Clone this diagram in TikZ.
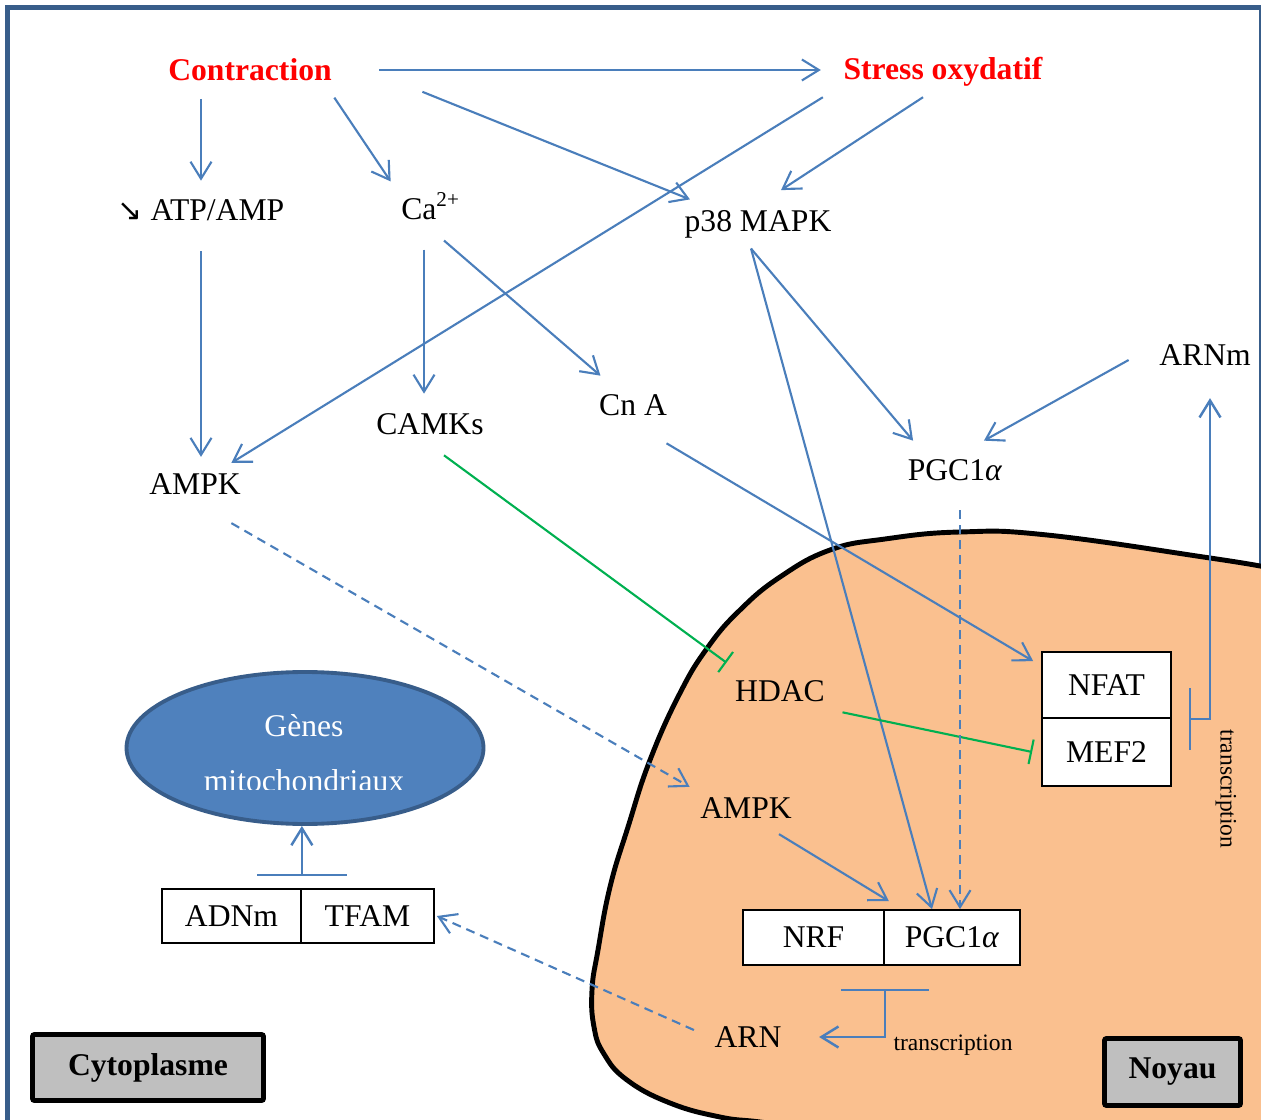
\documentclass[tikz,border=0pt]{standalone}
\usepackage{fontspec}
\setmainfont{Liberation Serif}
\newfontfamily\arrowfont{DejaVu Sans}
\usetikzlibrary{arrows.meta,shapes.geometric}
\definecolor{linkblue}{RGB}{74,126,187}
\definecolor{inhgreen}{RGB}{0,176,80}
\definecolor{framedark}{RGB}{56,93,138}
\definecolor{genesblue}{RGB}{79,129,189}
\definecolor{noyaufill}{RGB}{250,192,143}
\definecolor{zonegray}{RGB}{191,191,191}
\tikzset{
    % text labels
    lbl/.style={font=\fontsize{9}{11}\selectfont, inner sep=1mm},
    cue/.style={lbl, font=\fontsize{9}{11}\selectfont\bfseries, text=red},
    txnote/.style={font=\fontsize{6.7}{8}\selectfont, inner sep=0pt},
    % boxed factors
    cell/.style={lbl, draw=black, line width=0.5pt, fill=white},
    zonetag/.style={draw=black, line width=1.4pt, fill=zonegray, rounded corners=0.6pt,
        font=\fontsize{9}{11}\selectfont\bfseries},
}
\tikzset{
    arr/.style={-{Straight Barb[length=1.7mm,width=2.1mm]}, line width=0.6pt, linkblue},
    darr/.style={arr, dash pattern=on 0.9mm off 0.6mm},
    inh/.style={-{Bar[width=2.5mm]}, line width=0.6pt, inhgreen},
    txarr/.style={{Bar[width=#1]}-{Straight Barb[length=1.7mm,width=2.1mm]}, line width=0.7pt, linkblue},
}

\begin{document}
\begin{tikzpicture}[x=0.1mm, y=-0.1mm,
   genestext/.style={font=\fontsize{9}{15.6}\selectfont, text=white, align=center, inner sep=0pt}]
  \useasboundingbox (0,0) rectangle (1261,1120);
  \clip (0,0) rectangle (1261,1120);
  % outer frame
  \draw[framedark, line width=1.4pt] (7.5,7.5) rectangle (1261,1135);
  % nucleus
  \filldraw[fill=noyaufill, draw=black, line width=1.4pt]
    plot[smooth, tension=0.75] coordinates {(1265,567) (1210,558) (1047,535) (960,532)
      (885,539) (830,550) (780,577) (740,610) (708,647) (680,693) (650,760) (628,827)
      (610,887) (598,950) (592,990) (594,1027) (604,1054) (627,1080) (670,1103)
      (720,1117) (760,1122) (820,1130)}
    -- (1280,1140) -- (1280,560) -- cycle;

  \node[cue] (contr)  at (250,70)  {Contraction};
  \node[cue] (stress) at (943,72)  {Stress oxydatif};
  \node[lbl] (atp)    at (201,210) {{\arrowfont\fontsize{8.5}{9}\selectfont ↘}\ ATP/AMP};
  \node[lbl] (ca)     at (431,206) {Ca\textsuperscript{2+}};
  \node[lbl] (p38)    at (758,224) {p38 MAPK};
  \node[lbl] (ampk)   at (195,484) {AMPK};
  \node[lbl] (camks)  at (430,424) {CAMKs};
  \node[lbl] (cna)    at (633,405) {Cn A};
  \node[lbl] (pgc)    at (955,470) {PGC1\textit{α}};
  \node[lbl] (arnm)   at (1205,355){ARNm};
  \node[lbl] (hdac)   at (780,691) {HDAC};
  \node[lbl] (ampkn)  at (746,808) {AMPK};
  \node[lbl] (arn)    at (748,1037){ARN};

  \node[cell, minimum width=12.9mm, minimum height=6.6mm] (nfat) at (1106.5,685) {NFAT};
  \node[cell, minimum width=12.9mm, minimum height=6.8mm] (mef2) at (1106.5,752) {MEF2};
  \node[cell, minimum width=14.1mm, minimum height=5.5mm] (nrf)  at (813.5,937.5) {NRF};
  \node[cell, minimum width=13.6mm, minimum height=5.5mm] (pgcb) at (952,937.5) {PGC1\textit{α}};
  \node[cell, minimum width=13.9mm, minimum height=5.4mm] (adnm) at (231.5,916) {ADNm};
  \node[cell, minimum width=13.3mm, minimum height=5.4mm] (tfam) at (367.5,916) {TFAM};

  % mitochondrial genes
  \node[ellipse, draw=framedark, line width=1.1pt, fill=genesblue,
        minimum width=35.7mm, minimum height=15.2mm] (genes) at (305,748) {};
  \begin{scope}
    \clip (120,660) rectangle (490,789);
    \node[genestext] (genestxt) at (304,753) {Gènes\\mitochondriaux};
  \end{scope}

  \node[zonetag, minimum width=23.1mm, minimum height=6.6mm] (cyto)  at (148,1067.5) {Cytoplasme};
  \node[zonetag, minimum width=13.6mm, minimum height=6.7mm] (noyau) at (1172.5,1072) {Noyau};

  \node[txnote, rotate=-90] (txv) at (1226,789) {transcription};
  \node[txnote] (txh) at (953,1045) {transcription};

  % signalling from contraction and stress
  \draw[arr, shorten <=3.7mm, shorten >=1.2mm] (contr.east) -- (contr.east -| stress.west);
  \draw[arr, shorten <=0.7mm, shorten >=0.8mm] (contr.south -| atp.north) -- (atp.north);
  \draw[arr, shorten <=0.7mm] ([xshift=-1.2mm]contr.south east) -- (ca.north west);
  \draw[arr] ([xshift=8mm]contr.south east) -- ([xshift=1.6mm]p38.north west);
  \draw[arr] ([xshift=-1mm]stress.south west) -- ([xshift=-2mm]ampk.north east);
  \draw[arr, shorten >=0.6mm] ([xshift=-2mm]stress.south) -- ([xshift=1.8mm,yshift=0.6mm]p38.north);
  \draw[arr, shorten <=2mm, shorten >=0.6mm] (atp.south) -- (atp.south |- ampk.north);
  \draw[arr, shorten <=1.9mm, shorten >=0.9mm] ([xshift=-0.7mm]ca.south) -- ([xshift=-0.7mm]ca.south |- camks.north);
  \draw[arr] ([xshift=1.3mm,yshift=-1mm]ca.south) -- ([xshift=1.2mm,yshift=0.8mm]cna.north west);
  \draw[arr] ([xshift=-0.7mm]p38.south) -- ([xshift=1.6mm,yshift=0.8mm]pgc.north west);
  \draw[arr] ([xshift=-0.7mm]p38.south) -- ([xshift=-2mm]pgcb.north);
  \draw[arr] ([xshift=-2mm,yshift=-0.5mm]arnm.west) -- ([xshift=-2.9mm,yshift=0.8mm]pgc.north east);
  \draw[arr] ([xshift=-1.1mm,yshift=-1.7mm]cna.south east) -- ([xshift=-0.8mm,yshift=-1mm]nfat.north west);
  % inhibitions
  \draw[inh] ([xshift=1.4mm,yshift=-1mm]camks.south) -- ([xshift=0.2mm,yshift=0.7mm]hdac.north west);
  \draw[inh] ([xshift=0.7mm]hdac.south east) -- ([xshift=-0.9mm]mef2.west);
  % translocation into the nucleus
  \draw[darr] ([xshift=-2mm,yshift=-1.8mm]ampk.south east) -- (ampkn.north west);
  \draw[darr] ([xshift=0.5mm,yshift=-1.9mm]pgc.south) -- ([xshift=0.5mm]pgc.south |- pgcb.north);
  \draw[arr] ([xshift=3.3mm,yshift=-0.5mm]ampkn.south) -- ([xshift=0.4mm,yshift=0.8mm]nrf.north east);
  \draw[darr] ([xshift=-1mm,yshift=0.7mm]arn.west) -- ([xshift=0.2mm]tfam.east);
  % transcription
  \draw[txarr=8.8mm] ([yshift=-2.3mm]nrf.south east) |- ([xshift=2.7mm]arn.east);
  \draw[txarr=6.2mm] ([xshift=1.7mm]nfat.south east) -| ([xshift=0.5mm,yshift=-2.2mm]arnm.south);
  \draw[txarr=9mm] ([yshift=1.2mm]adnm.north east) -- (genes.south -| adnm.north east);
\end{tikzpicture}
\end{document}
